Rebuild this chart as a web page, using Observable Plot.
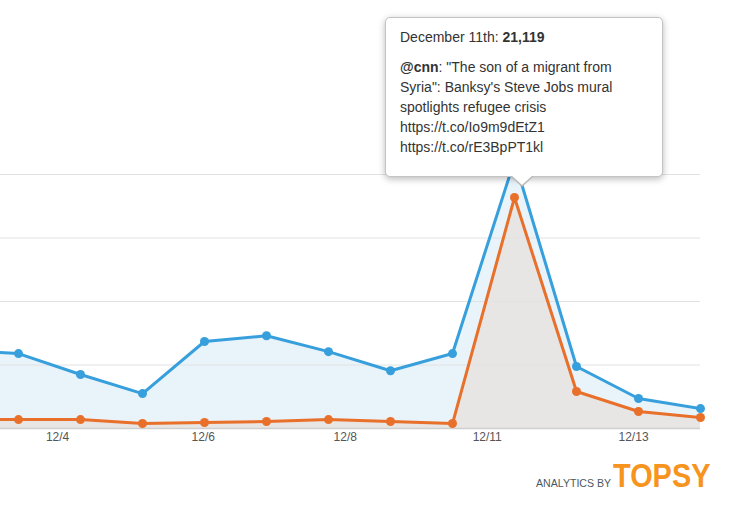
<!DOCTYPE html>
<html>
<head>
<meta charset="utf-8">
<script src="https://cdn.jsdelivr.net/npm/d3@7"></script>
<script src="https://cdn.jsdelivr.net/npm/@observablehq/plot@0.6"></script>
<style>
  html, body { margin: 0; padding: 0; background: #fff; }
  body { font-family: "Liberation Sans", Arial, sans-serif; }
  #wrap { position: relative; width: 732px; height: 508px; overflow: hidden; background: #fff; }
  #wrap svg { position: absolute; left: 0; top: 0; }
  .tip {
    position: absolute; box-sizing: border-box;
    background: #fff; border: 1px solid #c4c4c4; border-radius: 5px;
    box-shadow: 0 2px 7px rgba(0,0,0,0.28);
    padding: 9px 14px 0 14px; color: #333; font-size: 14px; line-height: 20px;
    font-family: "Liberation Sans", Arial, sans-serif;
  }
  .tip p { margin: 0; white-space: nowrap; }
  .tip p + p { margin-top: 10px; }
  .arrow { position: absolute; width: 0; height: 0; }
  .footer-a { position: absolute; font-size: 10.6px; line-height: 10px; color: #4e5862; white-space: nowrap; }
  .footer-b { position: absolute; font-size: 34px; line-height: 34px; font-weight: bold; color: #f7941d; white-space: nowrap; transform: scaleX(0.85); transform-origin: left top; }
</style>
</head>
<body>
<div id="wrap"></div>
<script>
// ---- data (December day of month) ----
const days        = [2, 3, 4, 5, 6, 7, 8, 9, 10, 11, 12, 13, 14];
const totalTweets = [6200, 5900, 4250, 2750, 6850, 7300, 6050, 4550, 5900, 21119, 4880, 2360, 1570];
const topTweets   = [700, 700, 700, 390, 470, 550, 700, 550, 390, 18190, 2910, 1340, 870];
const tickDays    = [3.63, 5.98, 8.27, 10.56, 12.92];
const tickLabels  = ["12/4", "12/6", "12/8", "12/11", "12/13"];
const gridValues  = [5000, 10000, 15000, 20000];
const tipDay = 11;
const tipTitle = "December 11th: ";
const tipValue = "21,119";
const tipUser = "@cnn";
const tipLines = [": \"The son of a migrant from", "Syria\": Banksy's Steve Jobs mural", "spotlights refugee crisis", "https://t.co/Io9m9dEtZ1", "https://t.co/rE3BpPT1kl"];

const blue = "#379fdc", orange = "#e8702a";
const rows = days.map((d, i) => ({day: d, total: totalTweets[i], top: topTweets[i]}));
const visible = rows.filter(d => d.day >= 3);

const chart = Plot.plot({
  width: 732, height: 456,
  marginLeft: 0, marginRight: 32, marginTop: 0, marginBottom: 28,
  style: {fontFamily: "Liberation Sans, Arial, sans-serif", fontSize: "12px", color: "#555", background: "transparent"},
  x: {domain: [2, 14], range: [-44, 700], ticks: tickDays, tickFormat: d => tickLabels[tickDays.indexOf(d)], tickSize: 0, tickPadding: 4, label: null},
  y: {domain: [0, 20000], range: [428, 174], axis: null},
  marks: [
    Plot.areaY(rows, {x: "day", y: "total", fill: "#e8f3fa", clip: true}),
    Plot.areaY(rows, {x: "day", y: "top", fill: "#e8e6e4", clip: true}),
    Plot.ruleY(gridValues, {stroke: "#e2e2e2", strokeWidth: 1}),
    Plot.ruleY([0], {stroke: "#cfcfcf", strokeWidth: 1.5}),
    Plot.lineY(rows, {x: "day", y: "total", stroke: blue, strokeWidth: 3, clip: true}),
    Plot.lineY(rows, {x: "day", y: "top", stroke: orange, strokeWidth: 3, clip: true}),
    Plot.dot(visible, {x: "day", y: "total", r: 4.5, fill: blue}),
    Plot.dot(visible, {x: "day", y: "top", r: 4.5, fill: orange})
  ]
});

const wrap = document.getElementById("wrap");
wrap.appendChild(chart);

// tooltip anchored at the peak point via the chart's scales
const px = chart.scale("x").apply(tipDay);
const tipLeft = Math.round(px - 129), tipTop = 17, tipW = 278, tipH = 160;
const tip = document.createElement("div");
tip.className = "tip";
tip.style.left = tipLeft + "px"; tip.style.top = tipTop + "px";
tip.style.width = tipW + "px"; tip.style.height = tipH + "px";
const p1 = document.createElement("p");
p1.append(tipTitle);
const b1 = document.createElement("b"); b1.textContent = tipValue; p1.append(b1);
const p2 = document.createElement("p");
const b2 = document.createElement("b"); b2.textContent = tipUser; p2.append(b2);
tipLines.forEach((t, i) => { if (i > 0) p2.append(document.createElement("br")); p2.append(t); });
tip.append(p1, p2);

// arrow under tooltip
const tipX = px + 8;
const aOuter = document.createElement("div");
aOuter.className = "arrow";
aOuter.style.left = (tipX - 12) + "px"; aOuter.style.top = (tipTop + tipH - 1) + "px";
aOuter.style.borderLeft = "12px solid transparent"; aOuter.style.borderRight = "12px solid transparent";
aOuter.style.borderTop = "11px solid #b8b8b8";
const aInner = document.createElement("div");
aInner.className = "arrow";
aInner.style.left = (tipX - 11) + "px"; aInner.style.top = (tipTop + tipH - 2) + "px";
aInner.style.borderLeft = "11px solid transparent"; aInner.style.borderRight = "11px solid transparent";
aInner.style.borderTop = "10px solid #fff";
wrap.append(tip, aOuter, aInner);

// footer
const fa = document.createElement("div");
fa.className = "footer-a"; fa.textContent = "ANALYTICS BY";
fa.style.left = "536px"; fa.style.top = "477.5px";
const fb = document.createElement("div");
fb.className = "footer-b"; fb.textContent = "TOPSY";
fb.style.left = "613px"; fb.style.top = "457.5px";
wrap.append(fa, fb);
</script>
</body>
</html>
